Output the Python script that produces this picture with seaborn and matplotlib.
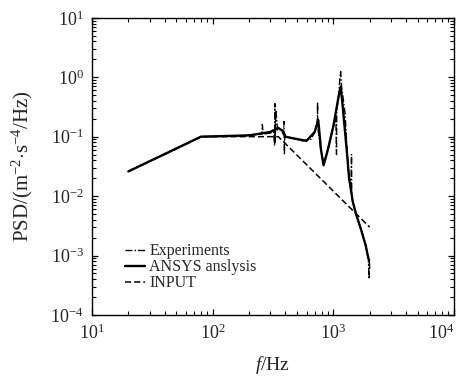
import numpy as np
import pandas as pd
import matplotlib
matplotlib.use("Agg")
import matplotlib.pyplot as plt
import matplotlib.ticker as mticker
import seaborn as sns

# ---- data ----
input_f = [20, 80, 350, 2000]
input_p = [0.026, 0.1, 0.1, 0.003]

ansys_f = [20, 80, 200, 300, 350, 380, 400, 450, 600, 700, 750, 790, 830, 900,
           1000, 1100, 1150, 1200, 1300, 1350, 1450, 1550, 1700, 1850, 1950]
ansys_p = [0.026, 0.1, 0.105, 0.12, 0.14, 0.125, 0.1, 0.095, 0.085, 0.12, 0.19,
           0.06, 0.033, 0.06, 0.15, 0.45, 0.7, 0.3, 0.05, 0.02, 0.008, 0.0048,
           0.0027, 0.0015, 0.0009]

exp_f = [20, 50, 80, 150, 250, 256, 258, 262, 300, 320, 326, 328, 330, 334, 345,
         370, 385, 390, 393, 396, 400, 410, 450, 550, 650, 720, 738, 740, 742,
         760, 800, 830, 900, 1000, 1050, 1062, 1068, 1100, 1130, 1150, 1170,
         1250, 1300, 1340, 1400, 1415, 1420, 1430, 1500, 1700, 1850, 1950, 1980,
         1990, 2000]
exp_p = [0.026, 0.062, 0.1, 0.102, 0.11, 0.11, 0.16, 0.11, 0.115, 0.12, 0.07,
         0.36, 0.08, 0.28, 0.13, 0.13, 0.11, 0.18, 0.05, 0.11, 0.1, 0.1, 0.095,
         0.085, 0.09, 0.13, 0.2, 0.38, 0.15, 0.1, 0.05, 0.035, 0.06, 0.15, 0.2,
         0.05, 0.3, 0.4, 0.9, 1.25, 0.7, 0.25, 0.06, 0.025, 0.015, 0.05, 0.012,
         0.009, 0.006, 0.0027, 0.0015, 0.0009, 0.0004, 0.0009, 0.0006]

x_ticks = [10, 100, 1000, 10000]
x_ticklabels = [r"$10^{1}$", r"$10^{2}$", r"$10^{3}$", r"$10^{4}$"]
y_ticks = [1e-4, 1e-3, 1e-2, 1e-1, 1, 10]
y_ticklabels = [r"$10^{-4}$", r"$10^{-3}$", r"$10^{-2}$", r"$10^{-1}$",
                r"$10^{0}$", r"$10^{1}$"]

# ---- style ----
sns.set_style("ticks")
plt.rcParams['font.family'] = ['Liberation Serif', 'DejaVu Serif']
plt.rcParams['mathtext.fontset'] = 'custom'
plt.rcParams['mathtext.rm'] = 'Liberation Serif'
plt.rcParams['mathtext.it'] = 'Liberation Serif:italic'
plt.rcParams['mathtext.bf'] = 'Liberation Serif:bold'
plt.rcParams['xtick.minor.visible'] = True
plt.rcParams['ytick.minor.visible'] = True

fig = plt.figure(figsize=(4.6, 3.79), dpi=100)
ax = fig.add_axes([0.2, 0.169, 0.787, 0.784])

df_exp = pd.DataFrame({"f": exp_f, "p": exp_p})
df_ans = pd.DataFrame({"f": ansys_f, "p": ansys_p})
df_in = pd.DataFrame({"f": input_f, "p": input_p})

sns.lineplot(data=df_exp, x="f", y="p", ax=ax, color="black", lw=1.0,
             linestyle=(0, (5, 1.5, 1, 1.5)), sort=False, estimator=None,
             label="Experiments")
sns.lineplot(data=df_ans, x="f", y="p", ax=ax, color="black", lw=1.7,
             linestyle="-", sort=False, estimator=None, label="ANSYS anslysis")
sns.lineplot(data=df_in, x="f", y="p", ax=ax, color="black", lw=1.1,
             linestyle=(0, (4, 2)), sort=False, estimator=None, label="INPUT")

ax.set_xscale("log")
ax.set_yscale("log")
ax.set_xlim(10, 1e4)
ax.set_ylim(1e-4, 10)
ax.set_xticks(x_ticks, x_ticklabels)
ax.set_yticks(y_ticks, y_ticklabels)
ax.xaxis.set_minor_locator(mticker.FixedLocator(
    [m * 10 ** e for e in range(1, 4) for m in range(2, 10)]))
ax.yaxis.set_minor_locator(mticker.FixedLocator(
    [m * 10.0 ** e for e in range(-4, 1) for m in range(2, 10)]))
ax.xaxis.set_minor_formatter(mticker.NullFormatter())
ax.yaxis.set_minor_formatter(mticker.NullFormatter())

ax.tick_params(which="both", direction="in", top=True, right=True,
               bottom=True, left=True, labelsize=13, pad=6, color="black")
ax.tick_params(which="major", length=4, width=0.9)
ax.tick_params(which="minor", length=3, width=0.8)
for s in ax.spines.values():
    s.set_linewidth(1.0)
    s.set_color("black")

ax.xaxis.get_major_ticks()[-1].label1.set_horizontalalignment("right")

ax.set_xlabel(r"$\it{f}$/Hz", fontsize=14, labelpad=8)
ax.set_ylabel(r"PSD/(m$^{-2}$$\cdot$s$^{-4}$/Hz)", fontsize=15, labelpad=11)

leg = ax.legend(loc="lower left", bbox_to_anchor=(0.09, 0.08), frameon=False,
                fontsize=11.5, handlelength=1.3, handletextpad=0.25,
                labelspacing=0.0, borderaxespad=0, borderpad=0)

fig.savefig("out.png", dpi=100)
